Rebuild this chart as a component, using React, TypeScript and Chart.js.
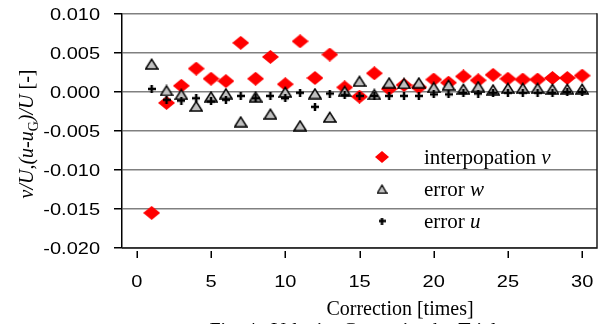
import React, { useEffect, useRef } from 'react';
import { Chart, registerables } from 'chart.js';

Chart.register(...registerables);

const corrections = [1, 2, 3, 4, 5, 6, 7, 8, 9, 10, 11, 12, 13, 14, 15, 16, 17, 18, 19, 20, 21, 22, 23, 24, 25, 26, 27, 28, 29, 30];
const interpolationV = [-0.0155, -0.0014, 0.0008, 0.003, 0.0017, 0.0014, 0.0063, 0.0017, 0.0045, 0.001, 0.0065, 0.0018, 0.0048, 0.0006, -0.0006, 0.0024, 0.0004, 0.0009, 0.0006, 0.0016, 0.0012, 0.002, 0.0015, 0.0022, 0.0017, 0.0016, 0.0016, 0.0018, 0.0018, 0.0021];
const errorW = [0.0036, 0.0002, -0.0003, -0.0018, -0.0006, -0.0002, -0.0038, -0.0006, -0.0028, 0.0, -0.0043, -0.0002, -0.0032, 0.0001, 0.0014, -0.0003, 0.0012, 0.0011, 0.0012, 0.0006, 0.0009, 0.0004, 0.0007, 0.0003, 0.0005, 0.0005, 0.0005, 0.0004, 0.0004, 0.0004];
const errorU = [0.0004, -0.001, -0.0011, -0.0008, -0.0012, -0.001, -0.0005, -0.0008, -0.0005, -0.0008, -0.0001, -0.0019, -0.0002, -0.0004, -0.0005, -0.0005, -0.0005, -0.0005, -0.0005, -0.0003, -0.0003, -0.0001, -0.0002, -0.0001, -0.0001, -0.0001, -0.0001, -0.0001, 0.0, 0.0];

const xTicks = [0, 5, 10, 15, 20, 25, 30];
const yTicks = [0.01, 0.005, 0, -0.005, -0.01, -0.015, -0.02];
const yTickLabels = ['0.010', '0.005', '0.000', '-0.005', '-0.010', '-0.015', '-0.020'];
const xTitle = 'Correction [times]';
const legendNames = ['interpopation ', 'error ', 'error '];
const legendVars = ['v', 'w', 'u'];
const caption = 'Fig. 4   Velocity Correction by Trial';

const SERIF = '"Liberation Serif", "Times New Roman", serif';
const SANS = '"Liberation Sans", Arial, sans-serif';

function makeDiamond(w: number, h: number) {
  const c = document.createElement('canvas');
  c.width = w; c.height = h;
  const g = c.getContext('2d')!;
  g.fillStyle = '#ff0000';
  g.beginPath();
  g.moveTo(w / 2, 0); g.lineTo(w, h / 2); g.lineTo(w / 2, h); g.lineTo(0, h / 2);
  g.closePath(); g.fill();
  return c;
}
function makeTriangle(w: number, h: number, lw: number) {
  const c = document.createElement('canvas');
  c.width = w; c.height = h;
  const g = c.getContext('2d')!;
  g.fillStyle = '#c0c0c0';
  g.strokeStyle = '#000';
  g.lineWidth = lw;
  g.lineJoin = 'miter';
  g.beginPath();
  g.moveTo(w / 2, lw * 0.9); g.lineTo(w - lw * 0.6, h - lw * 0.6); g.lineTo(lw * 0.6, h - lw * 0.6);
  g.closePath(); g.fill(); g.stroke();
  return c;
}
function makeCross(s: number, t: number) {
  const c = document.createElement('canvas');
  c.width = s; c.height = s;
  const g = c.getContext('2d')!;
  g.fillStyle = '#000';
  g.fillRect((s - t) / 2, 0, t, s);
  g.fillRect(0, (s - t) / 2, s, t);
  return c;
}

export default function App() {
  const ref = useRef<HTMLCanvasElement | null>(null);
  useEffect(() => {
    if (!ref.current) return;
    const diamond = makeDiamond(17, 14);
    const triangle = makeTriangle(14, 12, 1.5);
    const cross = makeCross(8, 2.5);
    const lDiamond = makeDiamond(14, 12);
    const lTriangle = makeTriangle(11, 10, 1.3);
    const lCross = makeCross(7, 2.5);

    const decor = {
      id: 'decor',
      afterDraw(chart: any) {
        const ctx: CanvasRenderingContext2D = chart.ctx;
        const { left, right, top, bottom } = chart.chartArea;
        const xs = chart.scales.x;
        const ys = chart.scales.y;
        ctx.save();
        // right and bottom frame
        ctx.strokeStyle = '#1a1a1a';
        ctx.lineWidth = 1.5;
        ctx.beginPath();
        ctx.moveTo(right, top - 0.75);
        ctx.lineTo(right, bottom);
        ctx.lineTo(left, bottom);
        ctx.stroke();
        // x tick marks
        ctx.strokeStyle = '#000';
        xTicks.forEach((v) => {
          const px = Math.round(xs.getPixelForValue(v)) + 0.25;
          ctx.beginPath();
          ctx.moveTo(px, bottom + 3);
          ctx.lineTo(px, bottom + 10);
          ctx.stroke();
        });
        // x tick labels
        ctx.fillStyle = '#000';
        ctx.font = `16px ${SANS}`;
        ctx.textAlign = 'center';
        ctx.textBaseline = 'alphabetic';
        xTicks.forEach((v) => {
          const px = xs.getPixelForValue(v);
          ctx.save();
          ctx.translate(px, 287);
          ctx.scale(1.25, 1);
          ctx.fillText(String(v), 0, 0);
          ctx.restore();
        });
        // y tick labels
        ctx.textAlign = 'right';
        ctx.textBaseline = 'middle';
        yTicks.forEach((v, i) => {
          const py = ys.getPixelForValue(v);
          ctx.save();
          ctx.translate(100, py + 1.5);
          ctx.scale(1.25, 1);
          ctx.fillText(yTickLabels[i], 0, 0);
          ctx.restore();
        });
        // x title
        ctx.font = `20px ${SERIF}`;
        ctx.textAlign = 'center';
        ctx.textBaseline = 'alphabetic';
        ctx.fillText(xTitle, 400, 315);
        // caption (cut off at the bottom)
        ctx.fillText(caption, 353, 337);
        // y title
        const parts = [
          { t: 'v/U,(u-u', f: `italic 20px ${SERIF}`, dy: 0 },
          { t: 'G', f: `14px ${SERIF}`, dy: 5 },
          { t: ')/U ', f: `italic 20px ${SERIF}`, dy: 0 },
          { t: '[-]', f: `20px ${SERIF}`, dy: 0 },
        ];
        let total = 0;
        parts.forEach((p) => { ctx.font = p.f; total += ctx.measureText(p.t).width; });
        ctx.save();
        ctx.translate(33, 134);
        ctx.rotate(-Math.PI / 2);
        ctx.textAlign = 'left';
        let cx = -total / 2;
        parts.forEach((p) => {
          ctx.font = p.f;
          ctx.fillText(p.t, cx, p.dy);
          cx += ctx.measureText(p.t).width;
        });
        ctx.restore();
        // legend
        const icons = [lDiamond, lTriangle, lCross];
        const baselines = [164, 196, 228];
        ctx.textAlign = 'left';
        legendNames.forEach((name, i) => {
          const ic = icons[i];
          const cy = baselines[i] - 7;
          ctx.drawImage(ic, 382 - ic.width / 2, cy - ic.height / 2);
          ctx.font = `21px ${SERIF}`;
          ctx.fillText(name, 424, baselines[i]);
          const w = ctx.measureText(name).width;
          ctx.font = `italic 21px ${SERIF}`;
          ctx.fillText(legendVars[i], 424 + w, baselines[i]);
        });
        ctx.restore();
      },
    };

    const toPts = (arr: number[]) => corrections.map((x, i) => ({ x, y: arr[i] }));

    const chart = new Chart(ref.current, {
      type: 'scatter',
      data: {
        datasets: [
          { label: 'interpopation v', data: toPts(interpolationV), pointStyle: diamond as any, pointRadius: 7, order: 3 },
          { label: 'error w', data: toPts(errorW), pointStyle: triangle as any, pointRadius: 6, order: 2 },
          { label: 'error u', data: toPts(errorU), pointStyle: cross as any, pointRadius: 4, order: 1 },
        ],
      },
      options: {
        responsive: false,
        animation: false,
        devicePixelRatio: 1,
        layout: { padding: { top: 14, right: 8, bottom: 76, left: 0 } },
        plugins: { legend: { display: false }, tooltip: { enabled: false }, title: { display: false } },
        scales: {
          x: {
            type: 'linear',
            display: false,
            min: -1,
            max: 31,
          },
          y: {
            type: 'linear',
            position: 'left',
            min: -0.02,
            max: 0.01,
            afterBuildTicks: (scale: any) => { scale.ticks = yTicks.map((v) => ({ value: v })); },
            afterFit: (scale: any) => { scale.width = 122; },
            ticks: { display: false },
            grid: { color: '#808080', lineWidth: 1.5, tickColor: '#000', tickWidth: 1.5, tickLength: 8, drawTicks: true },
            border: { display: true, color: '#000', width: 1.5 },
          },
        },
      },
      plugins: [decor],
    });
    return () => chart.destroy();
  }, []);

  return (
    <div style={{ position: 'absolute', left: 0, top: 0, width: 605, height: 324, background: '#fff', overflow: 'hidden' }}>
      <canvas ref={ref} width={605} height={324} style={{ display: 'block' }} />
    </div>
  );
}
